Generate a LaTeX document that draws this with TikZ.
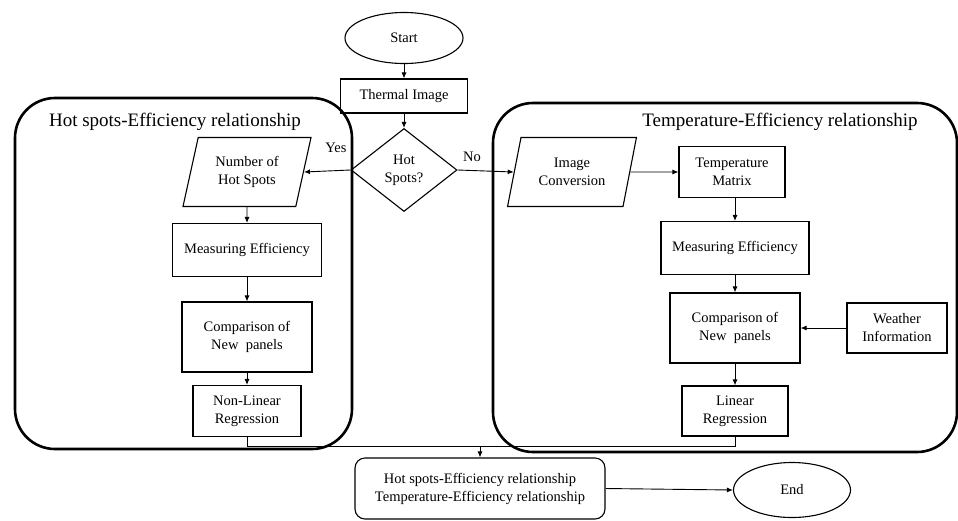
\documentclass[tikz,border=0pt]{standalone}
\usepackage{fontspec}
\setmainfont{Liberation Serif}
\usetikzlibrary{shapes.geometric,arrows.meta}
\begin{document}
\begin{tikzpicture}[x=1pt,y=-1pt,
  every node/.style={font=\fontsize{14.5}{18}\selectfont, align=center, inner sep=1pt},
  box/.style={draw, line width=1.1pt, rectangle},
  para/.style={draw, line width=1.1pt, trapezium, trapezium left angle=73, trapezium right angle=107, trapezium stretches=true},
  term/.style={draw, line width=1.1pt, ellipse},
  cond/.style={draw, line width=1.1pt, diamond},
  group/.style={draw, line width=2.6pt, rounded corners=40pt},
  conn/.style={line width=0.9pt, -{Latex[length=6pt,width=5pt]}},
  plain/.style={line width=0.9pt},
  grouptitle/.style={font=\fontsize{19}{22}\selectfont}
]
\useasboundingbox (0,0) rectangle (958,520);
% groups
\draw[group] (15,98) rectangle (352,449);
\draw[group] (493,103) rectangle (957,452);
\node[grouptitle] (t1) at (175,122) {Hot spots-Efficiency relationship};
\node[grouptitle] (t2) at (780,122) {Temperature-Efficiency relationship};
% top
\node[term, minimum width=118, minimum height=51] (start) at (404,38) {Start};
\node[box, minimum width=127, minimum height=34] (thermal) at (404,96) {Thermal Image};
\node[cond, minimum width=106, minimum height=83, inner sep=0pt] (hot) at (404,170) {Hot\\Spots?};
% left column
\node[para, minimum width=129, minimum height=69] (numhot) at (247,172) {Number of\\Hot Spots};
\node[box, minimum width=149, minimum height=53] (meas1) at (247,250) {Measuring Efficiency};
\node[box, minimum width=130, minimum height=70] (comp1) at (247,337) {Comparison of\\New\ \ panels};
\node[box, minimum width=108, minimum height=51] (nonlin) at (247,411) {Non-Linear\\Regression};
% right column
\node[para, minimum width=130, minimum height=69] (imgconv) at (572,172) {Image\\Conversion};
\node[box, minimum width=106, minimum height=51] (tempm) at (732,172) {Temperature\\Matrix};
\node[box, minimum width=148, minimum height=53] (meas2) at (735,248) {Measuring Efficiency};
\node[box, minimum width=130, minimum height=70] (comp2) at (735,328) {Comparison of\\New\ \ panels};
\node[box, minimum width=100, minimum height=50] (weather) at (897,328) {Weather\\Information};
\node[box, minimum width=106, minimum height=50] (linreg) at (735,411) {Linear\\Regression};
% bottom
\node[draw, line width=1.1pt, rounded corners=10pt, minimum width=250, minimum height=61] (result) at (480,488.5) {Hot spots-Efficiency relationship\\Temperature-Efficiency relationship};
\node[term, minimum width=117, minimum height=55] (end) at (792,490) {End};
% labels
\node (yes) at (336,148) {Yes};
\node (no) at (472,157) {No};
% coordinates
\coordinate (jl) at (247,446);
\coordinate (jr) at (735,446);
\coordinate (jm) at (480,446);
% connectors
\draw[conn] (start) -- (thermal);
\draw[conn] (thermal) -- (hot);
\draw[conn] (hot.west) -- (numhot.east);
\draw[conn] (hot.east) -- (imgconv.west);
\draw[conn] (numhot) -- (meas1);
\draw[conn] (meas1) -- (comp1);
\draw[conn] (comp1) -- (nonlin);
\draw[conn] (imgconv.east) -- (tempm.west);
\draw[conn] (tempm.south -| meas2.north) -- (meas2.north);
\draw[conn] (meas2) -- (comp2);
\draw[conn] (comp2) -- (linreg);
\draw[conn] (weather.west) -- (comp2.east);
\draw[plain] (nonlin.south) -- (jl) -- (jr) -- (linreg.south);
\draw[conn] (jm) -- (result.north);
\draw[conn] (result.east) -- (end.west);
\end{tikzpicture}
\end{document}
